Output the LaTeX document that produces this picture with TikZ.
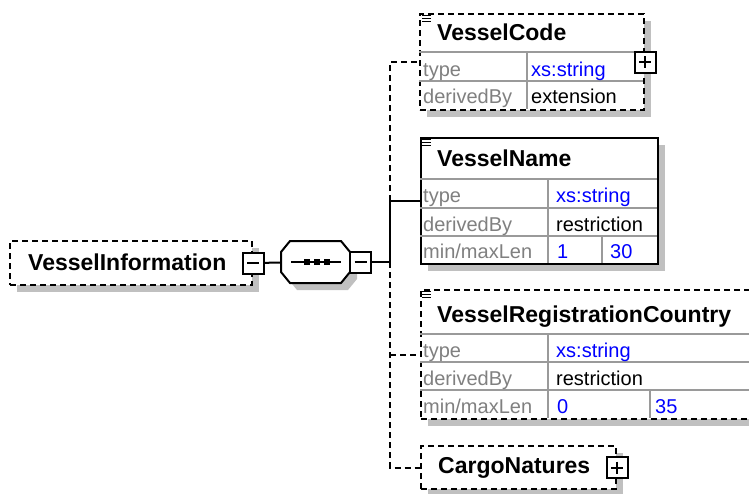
\documentclass[tikz,border=0pt]{standalone}
\usepackage{fontspec}
\setmainfont{Liberation Sans}
\usetikzlibrary{positioning,shadows}

\definecolor{shadowgray}{HTML}{C0C0C0}
\definecolor{labelgray}{HTML}{808080}
\definecolor{valueblue}{HTML}{0000FF}

\tikzset{
  elembox/.style={draw, line width=2pt, fill=white, inner sep=0pt, anchor=north west,
    general shadow={fill=shadowgray, shadow xshift=7pt, shadow yshift=-7pt}},
  optbox/.style={elembox, dash pattern=on 6pt off 4pt},
  rowline/.style={labelgray!80, line width=1.5pt},
  title/.style={font=\fontsize{23}{26}\selectfont\bfseries, inner sep=0pt, anchor=base west},
  attr/.style={font=\fontsize{20}{24}\selectfont, text=labelgray, inner sep=0pt, anchor=base west},
  val/.style={attr, text=black},
  blueval/.style={attr, text=valueblue},
  pmbox/.style={draw, line width=2pt, fill=white, minimum size=21pt, inner sep=0pt},
  minusbox/.style={pmbox, path picture={
    \draw[line width=2pt] ([xshift=4.5pt]path picture bounding box.west) -- ([xshift=-4.5pt]path picture bounding box.east);}},
  plusbox/.style={pmbox, path picture={
    \draw[line width=2pt] ([xshift=4.5pt]path picture bounding box.west) -- ([xshift=-4.5pt]path picture bounding box.east);
    \draw[line width=2pt] ([yshift=-4.5pt]path picture bounding box.north) -- ([yshift=4.5pt]path picture bounding box.south);}},
  link/.style={line width=2pt},
  optlink/.style={link, dash pattern=on 6pt off 4pt}
}

\begin{document}
\begin{tikzpicture}[x=1pt, y=-1pt]
    \useasboundingbox (0,0) rectangle (749,493);
    \clip (0,0) rectangle (749,493);

    % Root element
    \node[optbox, minimum width=242pt, minimum height=44pt] (vi) at (9,240) {};
    \node[title] (viName) at (28,270) {VesselInformation};
    \node[minusbox] (viMinus) at (vi.east) {};

    % Sequence compositor
    \fill[shadowgray, shift={(7,7)}] (281,252) -- (290,241) -- (341,241) -- (350,252) -- (350,272) -- (341,283) -- (290,283) -- (281,272) -- cycle;
    \draw[fill=white, line width=2pt] (281,252) -- (290,241) -- (341,241) -- (350,252) -- (350,272) -- (341,283) -- (290,283) -- (281,272) -- cycle;
    \node[minimum width=69pt, minimum height=42pt, inner sep=0pt] (seq) at (315.5,262) {};
    \draw[line width=2pt] (291,262) -- (341,262);
    \foreach \x in {306.5,316.5,326.5}
        \fill (\x-3,259) rectangle +(6,6);
    \node[minusbox] (seqMinus) at ([xshift=10.5pt]seq.east) {};

    % VesselCode
    \node[optbox, minimum width=224pt, minimum height=96pt] (vc) at (419,13) {};
    \draw[rowline] (419,52) -- (643,52);
    \draw[rowline] (419,81) -- (643,81);
    \draw[rowline] (527,52) -- (527,109);
    \node[title] (vcName) at (437,40) {VesselCode};
    \node[attr] (vcType) at (423,76) {type};
    \node[blueval] (vcTypeVal) at (531,76) {xs:string};
    \node[attr] (vcDer) at (423,103) {derivedBy};
    \node[val] (vcDerVal) at (531,103) {extension};
    \node[plusbox] (vcPlus) at (vc.east) {};

    % VesselName
    \node[elembox, minimum width=237pt, minimum height=126pt] (vn) at (420,137) {};
    \draw[rowline] (420,179) -- (657,179);
    \draw[rowline] (420,208) -- (657,208);
    \draw[rowline] (420,236) -- (657,236);
    \draw[rowline] (548,179) -- (548,263);
    \draw[rowline] (602,236) -- (602,263);
    \node[title] (vnName) at (437,166) {VesselName};
    \node[attr] (vnType) at (423,202) {type};
    \node[blueval] (vnTypeVal) at (556,202) {xs:string};
    \node[attr] (vnDer) at (423,231) {derivedBy};
    \node[val] (vnDerVal) at (556,231) {restriction};
    \node[attr] (vnLen) at (423,258) {min/maxLen};
    \node[blueval] (vnMin) at (557,258) {1};
    \node[blueval] (vnMax) at (610,258) {30};

    % VesselRegistrationCountry
    \node[optbox, minimum width=350pt, minimum height=129pt] (vr) at (420,289) {};
    \draw[rowline] (420,334) -- (770,334);
    \draw[rowline] (420,362) -- (770,362);
    \draw[rowline] (420,390) -- (770,390);
    \draw[rowline] (548,334) -- (548,418);
    \draw[rowline] (650,390) -- (650,418);
    \node[title] (vrName) at (437,322) {VesselRegistrationCountry};
    \node[attr] (vrType) at (423,357) {type};
    \node[blueval] (vrTypeVal) at (556,357) {xs:string};
    \node[attr] (vrDer) at (423,385) {derivedBy};
    \node[val] (vrDerVal) at (556,385) {restriction};
    \node[attr] (vrLen) at (423,413) {min/maxLen};
    \node[blueval] (vrMin) at (557,413) {0};
    \node[blueval] (vrMax) at (655,413) {35};

    % CargoNatures
    \node[optbox, minimum width=195pt, minimum height=43pt] (cn) at (420,445) {};
    \node[title] (cnName) at (438,473) {CargoNatures};
    \node[plusbox] (cnPlus) at (cn.east) {};

    % Element icons
    \foreach \ytop in {13,137,289}
        \foreach \dy in {2.5,5.5,8.5}
            \draw[line width=1.2pt] (422,\ytop+\dy) -- (431,\ytop+\dy);

    % Connectors
    \coordinate (bus) at (390,262);
    \draw[link] (viMinus) -- (seq);
    \draw[link] (seqMinus) -- (bus);
    \draw[link] (bus) -- (bus |- vn.west) -- (vn.west);
    \draw[optlink] (bus |- vn.west) -- (bus |- vc.west) -- (vc.west);
    \draw[optlink] (bus |- vr.west) -- (vr.west);
    \draw[optlink] (bus) -- (bus |- cn.west) -- (cn.west);
\end{tikzpicture}
\end{document}
